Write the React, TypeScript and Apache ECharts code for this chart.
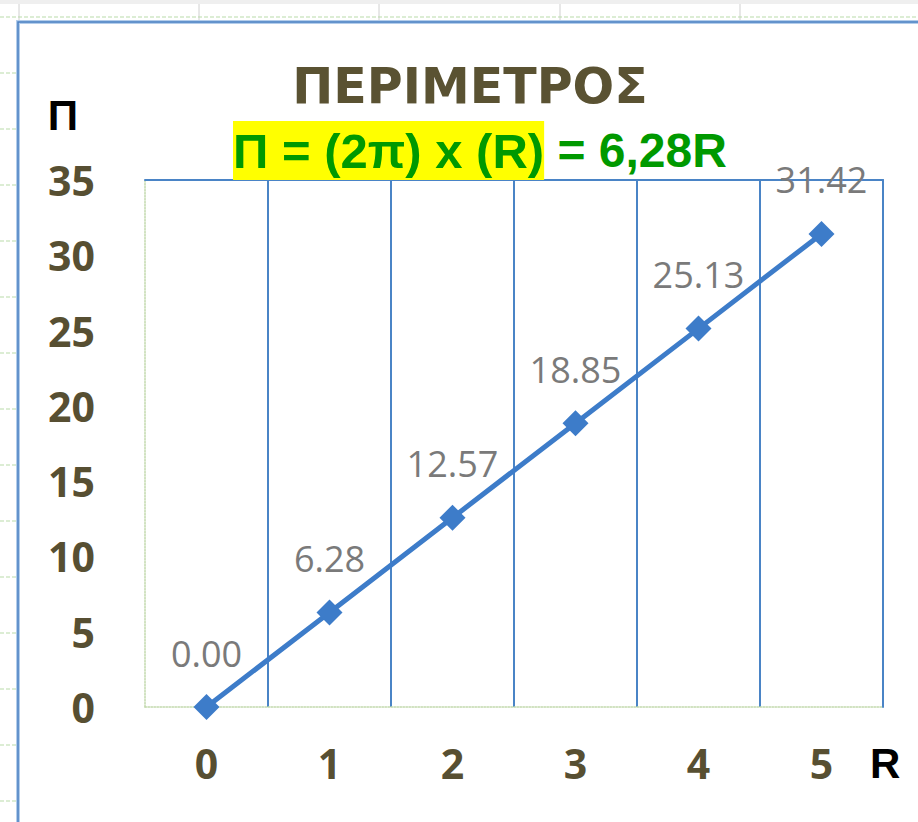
import React, { useEffect, useRef } from "react";
import * as echarts from "echarts";

const categories = ["0", "1", "2", "3", "4", "5"];
const perimeter = [0, 6.28, 12.57, 18.85, 25.13, 31.42];
const yMin = 0;
const yMax = 35;
const yStep = 5;
const titleText = "ΠΕΡΙΜΕΤΡΟΣ";
const formulaHighlighted = "Π = (2π) x (R)";
const formulaRest = " = 6,28R";
const yName = "Π";
const xName = "R";

const W = 918;
const H = 822;
const BLUE = "#4a84c6";
const GREEN_DOT = "#c2d9ad";
const LABEL = "#574f32";

function sheetBackground(): any[] {
  const els: any[] = [];
  els.push({ type: "rect", shape: { x: 0, y: 0, width: W, height: 4 }, style: { fill: "#efefef" }, silent: true });
  [19, 199, 379, 560, 740].forEach((x) =>
    els.push({ type: "line", shape: { x1: x, y1: 4, x2: x, y2: 22 }, style: { stroke: "#d0d0d0", lineWidth: 1 }, silent: true })
  );
  els.push({ type: "line", shape: { x1: 0, y1: 17, x2: W, y2: 17 }, style: { stroke: "#b9dba9", lineWidth: 1, lineDash: [4, 2] }, silent: true });
  for (let y = 73; y < H; y += 56) {
    els.push({ type: "line", shape: { x1: 0, y1: y, x2: 18, y2: y }, style: { stroke: "#b9dba9", lineWidth: 1, lineDash: [4, 2] }, silent: true });
  }
  els.push({ type: "polyline", shape: { points: [[18, H], [18, 22], [W, 22]] }, style: { stroke: "#b3cdeb", lineWidth: 4, fill: "none" }, silent: true });
  els.push({ type: "polyline", shape: { points: [[18, H], [18, 22], [W, 22]] }, style: { stroke: "#4a80c2", lineWidth: 1.5, fill: "none" }, silent: true });
  return els;
}

export default function App() {
  const ref = useRef<HTMLDivElement>(null);
  useEffect(() => {
    if (!ref.current) return;
    const chart = echarts.init(ref.current, undefined, { renderer: "svg" });
    chart.setOption({
      animation: false,
      backgroundColor: "#ffffff",
      graphic: { elements: sheetBackground() },
      title: [
        {
          text: titleText,
          left: 470,
          top: 62,
          textAlign: "center",
          padding: 0,
          textStyle: { fontFamily: "DejaVu Sans", fontWeight: "bold", fontSize: 49, color: "#5a5232" },
        },
        {
          text: `{hl|${formulaHighlighted}}{n|${formulaRest}}`,
          left: 233,
          top: 121,
          padding: 0,
          textStyle: {
            rich: {
              hl: { fontFamily: "Liberation Sans", fontWeight: "bold", fontSize: 49, color: "#009900", backgroundColor: "#ffff00", lineHeight: 59, height: 59 },
              n: { fontFamily: "Liberation Sans", fontWeight: "bold", fontSize: 48, color: "#009900", lineHeight: 59, height: 59 },
            },
          },
        },
      ],
      grid: { left: 145, top: 180, right: W - 883, bottom: H - 707, containLabel: false },
      xAxis: [
        {
          type: "category",
          data: categories,
          boundaryGap: true,
          position: "bottom",
          axisLine: { show: true, onZero: false, lineStyle: { color: GREEN_DOT, width: 1.5, type: "dotted" } },
          axisTick: { show: false },
          axisLabel: { fontFamily: "Open Sans", fontWeight: "bold", fontSize: 41, color: LABEL, margin: 35 },
          splitLine: { show: true, interval: (i: number) => i !== 0, lineStyle: { color: BLUE, width: 2 } },
          name: xName,
          nameLocation: "end",
          nameGap: -13,
          nameTextStyle: { fontFamily: "Liberation Sans", fontWeight: "bold", fontSize: 42, color: "#000000", verticalAlign: "top", lineHeight: 112 },
        },
        {
          type: "category",
          data: categories,
          position: "top",
          axisLine: { show: true, onZero: false, lineStyle: { color: BLUE, width: 2 } },
          axisTick: { show: false },
          axisLabel: { show: false },
          splitLine: { show: false },
        },
      ],
      yAxis: [
        {
          type: "value",
          min: yMin,
          max: yMax,
          interval: yStep,
          position: "left",
          axisLine: { show: true, onZero: false, lineStyle: { color: GREEN_DOT, width: 1.5, type: "dotted" } },
          axisTick: { show: false },
          splitLine: { show: false },
          axisLabel: { fontFamily: "Open Sans", fontWeight: "bold", fontSize: 41, color: LABEL, margin: 50 },
          name: yName,
          nameLocation: "end",
          nameGap: 44,
          nameTextStyle: { fontFamily: "Liberation Sans", fontWeight: "bold", fontSize: 42, color: "#000000", align: "center", padding: [0, 164, 0, 0] },
        },
        {
          type: "value",
          min: yMin,
          max: yMax,
          interval: yStep,
          position: "right",
          axisLine: { show: true, onZero: false, lineStyle: { color: BLUE, width: 2 } },
          axisTick: { show: false },
          axisLabel: { show: false },
          splitLine: { show: false },
        },
      ],
      series: [
        {
          type: "line",
          xAxisIndex: 0,
          yAxisIndex: 0,
          data: perimeter,
          symbol: "diamond",
          symbolSize: 26,
          lineStyle: { color: "#3d7cc9", width: 5 },
          itemStyle: { color: "#3d7cc9" },
          label: {
            show: true,
            position: "top",
            distance: 23,
            formatter: (p: any) => Number(p.value).toFixed(2),
            fontFamily: "Open Sans",
            fontSize: 36,
            color: "#7a7a7a",
          },
        },
      ],
    });
    return () => chart.dispose();
  }, []);
  return <div ref={ref} style={{ position: "fixed", left: 0, top: 0, width: W, height: H }} />;
}
